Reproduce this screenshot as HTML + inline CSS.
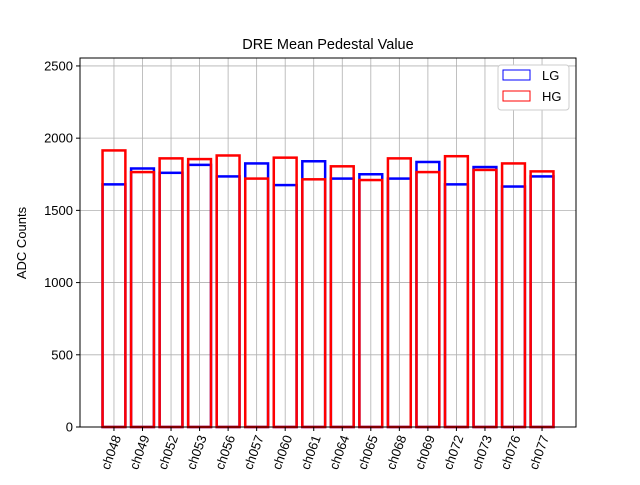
<!DOCTYPE html>
<html><head><meta charset="utf-8"><style>
body{margin:0;background:#fff}
svg{font-family:"Liberation Sans","DejaVu Sans",sans-serif}
</style></head><body>
<svg id="c" width="640" height="480">
<rect width="640" height="480" fill="#fff"/>
<text x="328" y="49" font-size="14.5" text-anchor="middle">DRE Mean Pedestal Value</text>
<g id="grid"></g><g id="bars"></g><g id="axes"></g>
<text transform="translate(26,243) rotate(-90)" font-size="13" text-anchor="middle">ADC Counts</text>
<g>
<rect x="498" y="65" width="71" height="45" fill="#fff" stroke="#ccc" rx="3"/>
<rect x="503" y="70" width="27" height="10" fill="none" stroke="blue"/>
<text x="542" y="80" font-size="13">LG</text>
<rect x="503" y="91" width="27" height="10" fill="none" stroke="red"/>
<text x="542" y="101" font-size="13">HG</text>
</g>
</svg>
<script>
const categories=["ch048","ch049","ch052","ch053","ch056","ch057","ch060","ch061","ch064","ch065","ch068","ch069","ch072","ch073","ch076","ch077"];
const lgValues=[1680,1790,1760,1815,1735,1825,1675,1840,1720,1750,1720,1835,1680,1800,1665,1735];
const hgValues=[1915,1765,1860,1855,1880,1720,1865,1715,1805,1710,1860,1765,1875,1780,1825,1770];
const yTicks=[0,500,1000,1500,2000,2500];
const L=80,R=576,T=58,B=427,yMax=2555;
const n=categories.length;
const x0=-1.19,x1=n-1+1.19;
const xs=i=>L+(i-x0)/(x1-x0)*(R-L);
const ys=v=>B-v/yMax*(B-T);
const NS="http://www.w3.org/2000/svg";
function mk(t,a,p){const e=document.createElementNS(NS,t);for(const k in a)e.setAttribute(k,a[k]);p.appendChild(e);return e;}
const g=document.getElementById('grid'),b=document.getElementById('bars'),ax=document.getElementById('axes');
const bw=(R-L)/(x1-x0)*0.8;
categories.forEach((c,i)=>{
 const l=mk('line',{x1:xs(i),x2:xs(i),y1:T,y2:B,stroke:'#b0b0b0','stroke-width':0.8},g);
 
 
 const tk=mk('line',{x1:xs(i),x2:xs(i),y1:B,y2:B+4,stroke:'#000'},ax);
 
 
 const t=mk('text',{transform:`translate(${xs(i)+4},${B+9}) rotate(-70)`,'font-size':13,'text-anchor':'end','dominant-baseline':'middle'},ax);
 t.textContent=c;
 
 
});
yTicks.forEach(v=>{
 const l=mk('line',{x1:L,x2:R,y1:ys(v),y2:ys(v),stroke:'#b0b0b0','stroke-width':0.8},g);
 
 
 const tk=mk('line',{x1:L-4,x2:L,y1:ys(v),y2:ys(v),stroke:'#000'},ax);
 
 
 const t=mk('text',{x:L-7,y:ys(v)+4.5,'font-size':13,'text-anchor':'end'},ax);
 t.textContent=v;
 
 
});
function bars(vals,col,name){
 vals.forEach((v,i)=>{
  const r=mk('rect',{x:xs(i)-bw/2,y:ys(v),width:bw,height:B-ys(v),fill:'none',stroke:col,'stroke-width':2.5},b);
  
  
 });
}
bars(lgValues,'blue','bar-lg');
bars(hgValues,'red','bar-hg');
const f=mk('rect',{x:L,y:T,width:R-L,height:B-T,fill:'none',stroke:'#000','stroke-width':1},ax);


</script>
</body></html>
